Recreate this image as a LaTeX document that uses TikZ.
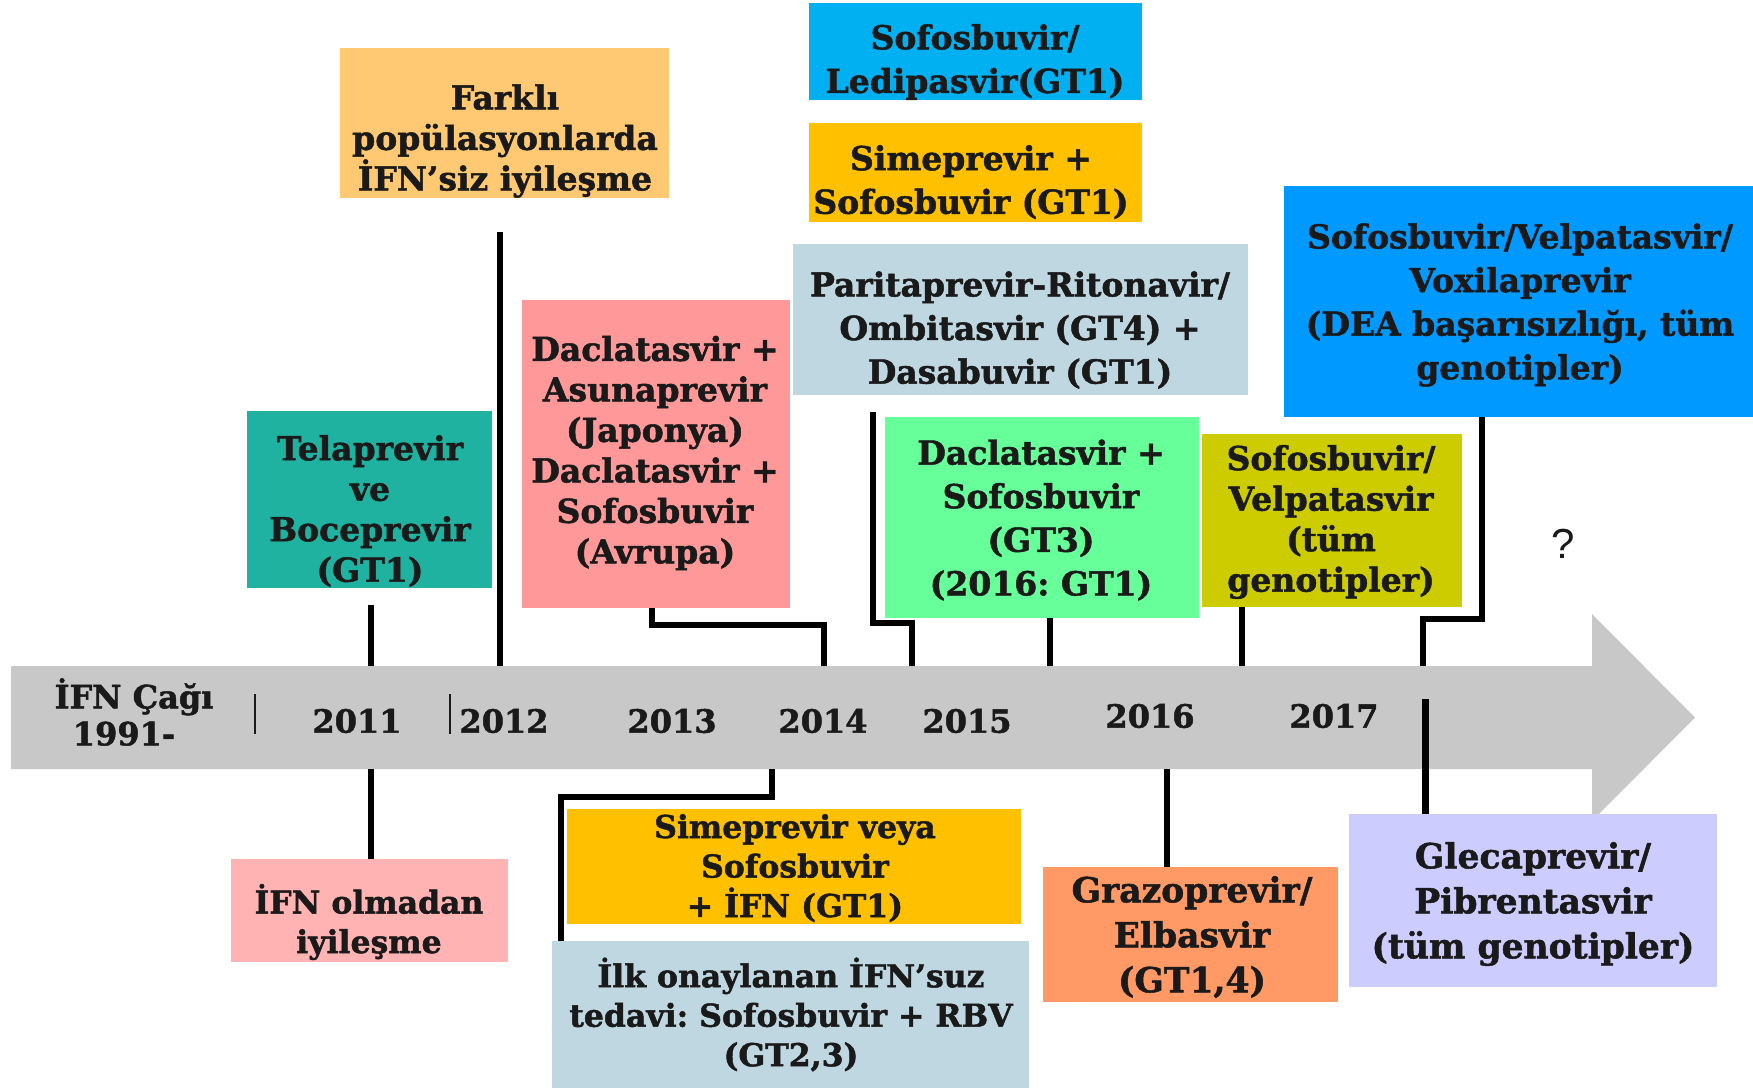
\documentclass[tikz,border=0pt]{standalone}
\usepackage{fontspec}
\setmainfont{DejaVu Serif}[BoldFeatures={FakeBold=1.5}]
\newfontfamily\qfont{Liberation Sans}
\frenchspacing
\definecolor{cArrow}{HTML}{C8C8C8}
\definecolor{cTela}{HTML}{20B2A0}
\definecolor{cFark}{HTML}{FFC872}
\definecolor{cDacA}{HTML}{FF9999}
\definecolor{cLed}{HTML}{00B0F0}
\definecolor{cGold}{HTML}{FFC000}
\definecolor{cGrayBlue}{HTML}{BFD7E0}
\definecolor{cGreen}{HTML}{66FF99}
\definecolor{cOlive}{HTML}{CCCC00}
\definecolor{cVoxi}{HTML}{0099FF}
\definecolor{cPink}{HTML}{FFB3B3}
\definecolor{cOrange}{HTML}{FF9966}
\definecolor{cLav}{HTML}{CCCCFF}
\definecolor{cText}{HTML}{1A1A1A}
\tikzset{
  box/.style={rectangle, draw=none, inner sep=0pt},
  txt/.style={align=center, inner sep=0pt, text=cText,
    font=\fontsize{33}{40.5}\selectfont\bfseries\frenchspacing},
  wide/.style={font=\fontsize{33}{43.6}\selectfont\bfseries\frenchspacing},
  big/.style={font=\fontsize{34.5}{45}\selectfont\bfseries\frenchspacing},
  small/.style={font=\fontsize{31.5}{39.5}\selectfont\bfseries\frenchspacing},
  yr/.style={align=center, inner sep=0pt, text=cText,
    font=\fontsize{32}{37}\selectfont\bfseries},
  conn/.style={line width=5.5pt, black},
  sep/.style={line width=1.5pt, cText},
}
\begin{document}
\begin{tikzpicture}[x=1pt,y=-1pt]
\useasboundingbox (0,0) rectangle (1753,1088);
% timeline arrow
\fill[cArrow] (11,666) -- (1592,666) -- (1592,614) -- (1695,717.5) -- (1592,821) -- (1592,769) -- (11,769) -- cycle;
\draw[sep] (255,694) -- (255,734);
\draw[sep] (450,694) -- (450,734);
% year labels
\node[yr] (era) at (134,712) {İFN Çağı\\1991-\hspace*{20pt}};
\node[yr] (y11) at (357,721) {2011};
\node[yr] (y12) at (504,721) {2012};
\node[yr] (y13) at (672,721) {2013};
\node[yr] (y14) at (823,721) {2014};
\node[yr] (y15) at (967,721) {2015};
\node[yr] (y16) at (1150,716) {2016};
\node[yr] (y17) at (1334,716) {2017};
% boxes above
\node[box, fill=cTela, minimum width=245, minimum height=177] (tela) at (369.5,499.5) {};
\node[box, fill=cFark, minimum width=329, minimum height=150] (farkli) at (504.5,123) {};
\node[box, fill=cDacA, minimum width=268, minimum height=308] (dacasu) at (656,454) {};
\node[box, fill=cLed, minimum width=333, minimum height=97] (sofled) at (975.5,51.5) {};
\node[box, fill=cGold, minimum width=333, minimum height=99] (simsof) at (975.5,172.5) {};
\node[box, fill=cGrayBlue, minimum width=455, minimum height=151] (parita) at (1020.5,319) {};
\node[box, fill=cGreen, minimum width=314, minimum height=201] (dacsof) at (1042,517.5) {};
\node[box, fill=cOlive, minimum width=260, minimum height=173] (sofvel) at (1332,520.5) {};
\node[box, fill=cVoxi, minimum width=469, minimum height=231] (voxi) at (1518.5,301.5) {};
% boxes below
\node[box, fill=cPink, minimum width=277, minimum height=103] (ifnol) at (369.5,910.5) {};
\node[box, fill=cGold, minimum width=454, minimum height=115] (simvey) at (794,866.5) {};
\node[box, fill=cGrayBlue, minimum width=477, minimum height=147] (ilk) at (790.5,1014.5) {};
\node[box, fill=cOrange, minimum width=295, minimum height=135] (grazo) at (1190.5,934.5) {};
\node[box, fill=cLav, minimum width=368, minimum height=173] (gleca) at (1533,900.5) {};
% texts
\node[txt] (tela-t) at (370,511) {Telaprevir\\ve\\Boceprevir\\(GT1)};
\node[txt] (farkli-t) at (505,141) {Farklı\\popülasyonlarda\\İFN’siz iyileşme};
\node[txt] (dacasu-t) at (655,453) {Daclatasvir +\\Asunaprevir\\(Japonya)\\Daclatasvir +\\Sofosbuvir\\(Avrupa)};
\node[txt, wide] (sofled-t) at (975,62) {Sofosbuvir/\\Ledipasvir(GT1)};
\node[txt, wide] (simsof-t) at (971,182) {Simeprevir +\\Sofosbuvir (GT1)};
\node[txt, wide] (parita-t) at (1020,330) {Paritaprevir-Ritonavir/\\Ombitasvir (GT4) +\\Dasabuvir (GT1)};
\node[txt, wide] (dacsof-t) at (1041,520) {Daclatasvir +\\Sofosbuvir\\(GT3)\\(2016: GT1)};
\node[txt] (sofvel-t) at (1331,522) {Sofosbuvir/\\Velpatasvir\\(tüm\\genotipler)};
\node[txt, wide] (voxi-t) at (1520,305) {Sofosbuvir/Velpatasvir/\\Voxilaprevir\\(DEA başarısızlığı, tüm\\genotipler)};
\node[txt, small] (ifnol-t) at (369,922) {İFN olmadan\\iyileşme};
\node[txt, small] (simvey-t) at (795,868) {Simeprevir veya\\Sofosbuvir\\+ İFN (GT1)};
\node[txt, small] (ilk-t) at (791,1014.5) {İlk onaylanan İFN’suz\\tedavi: Sofosbuvir + RBV\\(GT2,3)};
\node[txt, big] (grazo-t) at (1192,937) {Grazoprevir/\\Elbasvir\\(GT1,4)};
\node[txt, big] (gleca-t) at (1533,904) {Glecaprevir/\\Pibrentasvir\\(tüm genotipler)};
\node[font=\qfont\fontsize{42}{46}\selectfont, inner sep=0pt, text=cText] (q) at (1563,544) {?};
% connector anchor points
\coordinate (a11t) at (371,666);
\coordinate (a11b) at (371,769);
\coordinate (s11) at (371,605);
\coordinate (s12) at (500,232);
\coordinate (a12t) at (500,666);
\coordinate (k13) at (652,625);
\coordinate (k13b) at (824,625);
\coordinate (a14t) at (824,666);
\coordinate (s15) at (873,412);
\coordinate (k15) at (873,623);
\coordinate (k15b) at (912,623);
\coordinate (a15t) at (912,666);
\coordinate (a15c) at (1050,666);
\coordinate (a16t) at (1242,666);
\coordinate (k17) at (1482,619);
\coordinate (k17b) at (1423,619);
\coordinate (a17t) at (1423,666);
\coordinate (s17b) at (1425,699);
\coordinate (a14b) at (772,769);
\coordinate (k14) at (772,797);
\coordinate (k14b) at (561,797);
\coordinate (a16b) at (1167,769);
% connectors
\draw[conn] (s11) -- (a11t);
\draw[conn] (a11b) -- (ifnol.north -| a11b);
\draw[conn] (s12) -- (a12t);
\draw[conn] (dacasu.south -| k13) -- (k13) -- (k13b) -- (a14t);
\draw[conn] (s15) -- (k15) -- (k15b) -- (a15t);
\draw[conn] (dacsof.south -| a15c) -- (a15c);
\draw[conn] (sofvel.south -| a16t) -- (a16t);
\draw[conn] (voxi.south -| k17) -- (k17) -- (k17b) -- (a17t);
\draw[line width=7pt] (s17b) -- (gleca.north -| s17b);
\draw[conn] (a14b) -- (k14) -- (k14b) -- (ilk.north -| k14b);
\draw[conn] (a16b) -- (grazo.north -| a16b);
\end{tikzpicture}
\end{document}
